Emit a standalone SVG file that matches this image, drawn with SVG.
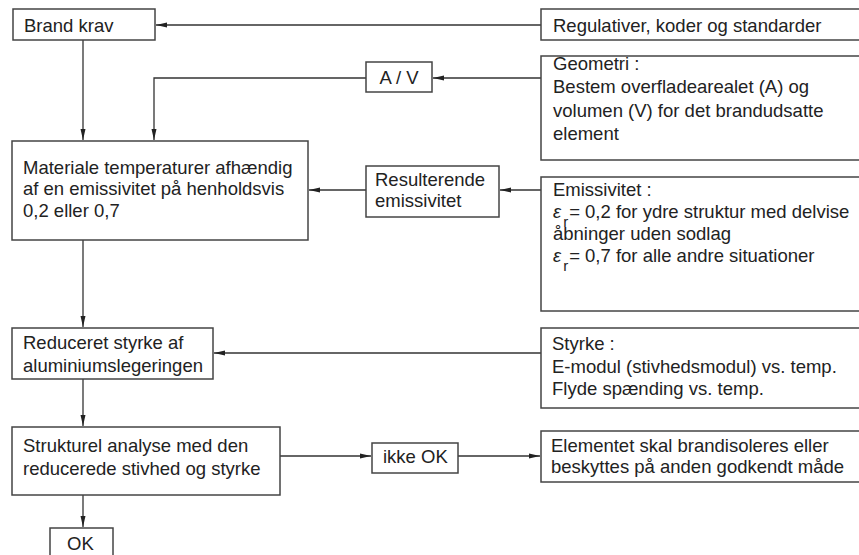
<svg xmlns="http://www.w3.org/2000/svg" width="859" height="555" viewBox="0 0 859 555">
<defs>
<style>
.box{fill:#fff;stroke:#444;stroke-width:1.5}
.t{font-family:"Liberation Sans",Arial,sans-serif;font-size:18.5px;fill:#222}
.eps{font-style:italic}
.sub{font-size:15px}
.c{fill:none;stroke:#333;stroke-width:1.3}
</style>
<marker id="ah" markerUnits="userSpaceOnUse" markerWidth="11" markerHeight="6" refX="11" refY="3" orient="auto">
<path d="M0,0.5 L11,3 L0,5.5 z" fill="#222"/>
</marker>
</defs>
<rect width="859" height="555" fill="#fff"/>
<g id="connectors">
<path class="c" d="M541,25 H156" marker-end="url(#ah)"/>
<path class="c" d="M83,40 V140" marker-end="url(#ah)"/>
<path class="c" d="M541,78 H433" marker-end="url(#ah)"/>
<path class="c" d="M366,78 H154 V140" marker-end="url(#ah)"/>
<path class="c" d="M541,190 H500" marker-end="url(#ah)"/>
<path class="c" d="M366,190 H309" marker-end="url(#ah)"/>
<path class="c" d="M83,240 V327" marker-end="url(#ah)"/>
<path class="c" d="M541,353 H214" marker-end="url(#ah)"/>
<path class="c" d="M83,379 V426" marker-end="url(#ah)"/>
<path class="c" d="M280,456 H371" marker-end="url(#ah)"/>
<path class="c" d="M458,456 H540" marker-end="url(#ah)"/>
<path class="c" d="M83,495 V527" marker-end="url(#ah)"/>
</g>
<g id="brand-krav">
<rect class="box" x="13" y="9" width="142" height="31"/>
<text class="t" x="24" y="32">Brand krav</text>
</g>
<g id="regulativer">
<rect class="box" x="541" y="9" width="340" height="31"/>
<text class="t" x="553" y="32">Regulativer, koder og standarder</text>
</g>
<g id="av">
<rect class="box" x="366" y="62" width="66" height="30"/>
<text class="t" x="399" y="84" text-anchor="middle">A / V</text>
</g>
<g id="geometri">
<rect class="box" x="541" y="56" width="340" height="104"/>
<text class="t" x="553" y="70">Geometri :</text>
<text class="t" x="553" y="93">Bestem overfladearealet (A) og</text>
<text class="t" x="553" y="117">volumen (V) for det brandudsatte</text>
<text class="t" x="553" y="140">element</text>
</g>
<g id="materiale">
<rect class="box" x="12" y="141" width="296" height="99"/>
<text class="t" x="23" y="174">Materiale temperaturer afhændig</text>
<text class="t" x="23" y="195">af en emissivitet på henholdsvis</text>
<text class="t" x="23" y="217">0,2 eller 0,7</text>
</g>
<g id="resulterende">
<rect class="box" x="366" y="166" width="133" height="51"/>
<text class="t" x="375" y="186">Resulterende</text>
<text class="t" x="375" y="207">emissivitet</text>
</g>
<g id="emissivitet">
<rect class="box" x="541" y="177" width="340" height="134"/>
<text class="t" x="553" y="196">Emissivitet :</text>
<text class="t" x="553" y="218"><tspan class="eps">ε</tspan><tspan class="sub" dx="2" dy="9">r</tspan><tspan dx="1" dy="-9">= 0,2 for ydre struktur med delvise</tspan></text>
<text class="t" x="553" y="240">åbninger uden sodlag</text>
<text class="t" x="553" y="262"><tspan class="eps">ε</tspan><tspan class="sub" dx="2" dy="9">r</tspan><tspan dx="1" dy="-9">= 0,7 for alle andre situationer</tspan></text>
</g>
<g id="reduceret">
<rect class="box" x="12" y="328" width="201" height="51"/>
<text class="t" x="23" y="349">Reduceret styrke af</text>
<text class="t" x="23" y="372">aluminiumslegeringen</text>
</g>
<g id="styrke">
<rect class="box" x="541" y="328" width="340" height="80"/>
<text class="t" x="552" y="350">Styrke :</text>
<text class="t" x="552" y="373">E-modul (stivhedsmodul) vs. temp.</text>
<text class="t" x="552" y="395">Flyde spænding vs. temp.</text>
</g>
<g id="strukturel">
<rect class="box" x="12" y="427" width="268" height="68"/>
<text class="t" x="23" y="452">Strukturel analyse med den</text>
<text class="t" x="23" y="475">reducerede stivhed og styrke</text>
</g>
<g id="ikke-ok">
<rect class="box" x="372" y="443" width="86" height="30"/>
<text class="t" x="383" y="463">ikke OK</text>
</g>
<g id="elementet">
<rect class="box" x="541" y="431" width="340" height="51"/>
<text class="t" x="551" y="452">Elementet skal brandisoleres eller</text>
<text class="t" x="551" y="473">beskyttes på anden godkendt måde</text>
</g>
<g id="ok">
<rect class="box" x="50" y="528" width="63" height="40"/>
<text class="t" x="67" y="550">OK</text>
</g>
</svg>
